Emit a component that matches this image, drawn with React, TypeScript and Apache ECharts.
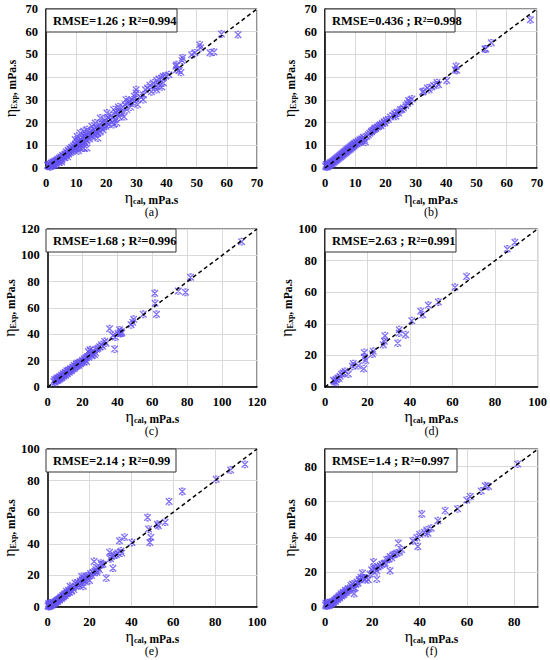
import React, { useEffect, useRef } from "react";
import * as echarts from "echarts";

// ---------- data: [η_cal, η_Exp] pairs ----------
const panelA: number[][] = [
  [0.5,1.2],[0.8,0.9],[1.0,1.8],[1.2,0.7],[1.5,1.4],[1.7,2.2],[1.9,1.1],[2.1,1.7],[2.3,2.6],[2.5,1.5],
  [2.7,2.0],[2.9,3.1],[3.1,2.4],[3.3,1.9],[3.5,3.3],[3.7,2.8],[3.9,3.9],[4.1,3.2],[4.3,2.6],[4.5,4.4],
  [4.7,3.7],[4.9,4.9],[5.1,4.1],[5.3,3.5],[5.5,5.6],[5.7,4.8],[5.9,5.3],[6.1,4.5],[6.3,6.2],[6.5,5.4],
  [6.7,7.0],[6.9,5.9],[7.1,6.6],[7.3,7.8],[7.5,6.2],[7.7,7.2],[7.9,8.5],[8.1,6.8],[8.3,7.7],[8.5,9.1],
  [8.7,7.3],[8.9,8.4],[9.1,9.8],[9.3,7.9],[9.5,8.9],[9.7,10.6],[9.9,8.4],[10.1,9.5],[10.3,11.3],[10.5,8.8],
  [10.7,10.2],[10.9,12.0],[11.1,9.4],[11.3,10.8],[11.5,12.7],[11.7,9.9],[11.9,11.4],[12.1,13.4],[12.3,8.8],[12.5,11.8],
  [12.7,14.1],[12.9,11.2],[13.1,12.6],[13.3,14.6],[13.5,12.0],[13.8,13.3],[14.1,15.4],[14.4,12.8],[14.7,14.2],[15.0,16.3],
  [15.3,13.9],[15.6,15.0],[15.9,17.2],[16.2,14.5],[16.5,15.8],[16.8,18.0],[17.1,15.2],[17.2,13.2],[17.4,16.6],[17.8,18.9],
  [18.0,15.9],[18.3,17.5],[18.6,20.2],[18.9,16.8],[19.2,18.3],[19.5,21.0],[19.9,18.4],[20.2,19.8],[20.5,22.3],[20.9,19.3],
  [21.3,21.3],[21.7,23.0],[22.1,20.2],[22.4,19.1],[22.9,21.3],[23.2,24.4],[23.5,19.8],[23.7,23.5],[24.0,25.9],[24.3,22.4],
  [24.7,24.8],[25.1,24.2],[25.5,26.9],[25.9,22.6],[26.2,27.9],[26.5,30.1],[26.8,25.7],[27.3,28.8],[27.6,29.4],[28.1,26.8],
  [28.6,30.0],[29.0,28.6],[29.3,31.6],[29.9,33.0],[29.9,34.5],[30.1,30.1],[30.4,27.9],[31.5,31.0],[32.3,32.3],[32.3,30.1],
  [33.0,34.4],[33.7,35.2],[34.5,36.4],[35.0,33.6],[35.6,37.4],[36.2,35.6],[36.7,38.5],[36.7,34.5],[37.5,39.2],[37.6,36.3],
  [38.4,39.6],[38.4,35.7],[38.9,40.4],[38.9,37.4],[39.7,40.4],[40.8,41.1],[43.1,44.8],[43.3,45.5],[43.3,43.3],[44.2,43.0],
  [44.8,42.1],[45.1,47.3],[45.3,48.5],[48.3,49.9],[49.4,50.7],[51.0,54.3],[51.3,52.9],[54.4,50.7],[55.7,51.1],[58.2,59.0],
  [63.7,58.7],[9.7,12.5],[10.3,14.0],[11.4,15.4],[12.5,16.2],[13.6,16.9],[15.2,18.4],[16.3,19.8],[18.0,22.0],[20.2,24.2],
  [22.4,25.7],[24.0,26.9],[12.5,8.8],[13.6,8.8],[10.8,7.6],[7.2,4.9],[5.2,2.6],[3.0,1.2],[1.4,0.5]
];

const panelB: number[][] = [
  [0.2,0.8],[0.4,1.5],[0.5,0.4],[0.7,1.1],[0.9,0.6],[1.0,1.9],[1.2,1.0],[1.4,1.6],[1.6,1.2],[1.8,2.3],
  [2.0,1.7],[2.2,2.6],[2.4,2.0],[2.6,3.0],[2.8,2.4],[3.0,3.4],[3.2,2.9],[3.4,3.8],[3.6,3.3],[3.8,4.3],
  [4.0,3.7],[4.2,4.7],[4.4,4.1],[4.6,5.2],[4.8,4.6],[5.0,5.6],[5.2,5.0],[5.4,6.1],[5.6,5.4],[5.8,6.5],
  [6.0,5.9],[6.2,7.0],[6.4,6.3],[6.6,7.4],[6.8,6.7],[7.0,7.9],[7.2,7.1],[7.4,8.3],[7.6,7.6],[7.8,8.7],
  [8.0,8.0],[8.2,9.1],[8.4,8.4],[8.6,9.6],[8.8,8.9],[9.0,10.0],[9.2,9.3],[9.4,10.4],[9.6,9.7],[9.8,10.9],
  [10.0,10.2],[10.3,11.3],[10.6,10.7],[10.9,11.9],[11.2,11.1],[11.5,12.4],[11.8,11.6],[12.1,12.9],[12.4,12.0],[12.7,13.5],
  [13.0,12.5],[13.3,11.4],[13.8,14.0],[14.3,14.6],[14.8,15.3],[15.3,15.9],[15.4,16.2],[15.8,16.6],[16.3,17.0],[16.5,17.6],
  [16.8,17.4],[17.3,18.0],[17.8,18.6],[18.2,19.0],[18.5,18.6],[18.9,19.7],[19.5,20.4],[19.8,19.8],[20.2,21.0],[20.9,21.3],
  [21.6,22.5],[22.4,23.2],[23.0,24.0],[23.4,22.8],[23.8,24.5],[24.3,24.2],[24.9,25.6],[25.4,25.7],[25.9,26.4],[26.7,27.5],
  [27.2,28.4],[27.6,29.7],[28.1,29.2],[28.7,30.4],[32.2,33.5],[32.5,33.8],[33.8,35.2],[34.4,34.5],[35.3,35.7],[35.9,36.3],
  [37.5,36.7],[37.0,37.6],[40.2,38.5],[43.0,43.3],[43.3,44.8],[43.5,43.0],[52.8,52.4],[53.1,52.4],[54.9,55.1],[67.8,65.3]
];

const panelC: number[][] = [
  [3.5,4.2],[4.0,5.5],[4.3,3.6],[4.8,6.0],[5.2,4.8],[5.6,7.0],[6.0,5.2],[6.3,6.8],[6.7,5.8],[7.0,8.0],
  [7.3,6.6],[7.7,7.5],[8.0,9.2],[8.3,7.0],[8.7,8.6],[9.0,10.2],[9.3,8.2],[9.7,9.5],[10.0,11.3],[10.3,9.0],
  [10.7,10.5],[11.0,12.4],[11.3,10.0],[11.7,11.6],[12.0,13.0],[12.4,11.2],[12.8,12.5],[13.2,14.0],[13.6,12.3],[14.0,13.5],
  [14.4,15.2],[14.8,13.8],[15.2,16.5],[15.6,14.5],[16.0,15.6],[16.4,17.5],[16.8,16.0],[17.2,18.2],[17.6,16.4],[18.0,17.5],
  [18.5,19.0],[19.0,17.6],[19.5,18.8],[20.0,20.3],[20.5,19.2],[21.0,21.5],[21.5,20.4],[22.0,22.2],[22.3,19.4],[22.8,23.2],
  [23.3,27.0],[23.5,22.5],[24.2,28.3],[24.5,24.8],[25.1,25.8],[25.5,23.8],[26.0,27.5],[26.9,24.5],[27.5,26.0],[28.2,28.6],
  [28.9,29.5],[29.8,30.6],[30.8,32.1],[31.5,31.0],[32.7,34.6],[33.5,33.3],[35.5,44.2],[37.4,39.1],[38.4,28.8],[38.8,38.0],
  [40.3,40.9],[41.2,43.4],[41.8,40.6],[42.2,42.2],[42.5,41.0],[47.8,47.2],[48.8,49.2],[49.3,51.5],[54.8,55.3],[61.4,71.2],
  [61.6,63.6],[62.4,55.3],[74.9,73.0],[79.0,72.0],[81.9,83.3],[111.2,110.4]
];

const panelD: number[][] = [
  [89.3,91.6],[85.7,87.3],[66.6,70.0],[61.1,63.1],[53.3,53.8],[48.6,51.7],[45.0,47.9],[45.9,45.8],[40.8,42.0],[37.9,33.1],
  [34.2,27.8],[34.9,36.3],[34.9,34.2],[28.2,32.5],[27.9,28.9],[27.4,26.8],[22.7,22.6],[22.3,20.9],[18.5,21.9],[18.5,18.8],
  [19.1,16.9],[18.2,11.6],[15.7,13.5],[13.3,14.8],[12.9,13.1],[11.0,8.2],[9.4,9.9],[7.8,8.2],[7.1,6.8],[6.0,5.7],
  [5.2,4.6],[4.4,3.6],[5.0,3.0],[6.6,5.3],[8.6,8.9],[4.0,4.2]
];

const panelE: number[][] = [
  [0.2,0.8],[0.4,2.0],[0.5,0.3],[0.7,1.2],[0.9,0.5],[1.0,2.6],[1.2,1.0],[1.4,1.8],[1.6,0.8],[1.8,1.5],
  [2.0,2.2],[2.2,1.3],[2.5,2.0],[2.8,2.8],[3.0,1.9],[3.3,2.6],[3.6,3.4],[3.9,2.8],[4.2,3.6],[4.5,4.2],
  [4.8,3.5],[5.1,4.6],[5.4,5.1],[5.7,4.4],[6.0,5.6],[6.3,6.4],[6.6,5.3],[6.9,6.2],[7.2,7.4],[7.5,6.3],
  [7.8,7.1],[8.1,8.3],[8.4,7.2],[8.7,8.6],[9.0,9.9],[9.3,8.4],[9.6,9.2],[10.0,10.6],[10.4,9.3],[10.7,13.1],
  [11.0,11.2],[11.5,9.9],[12.0,12.4],[12.5,11.0],[13.1,15.2],[13.5,13.0],[14.0,14.1],[14.6,15.2],[15.0,13.8],[15.5,16.5],
  [16.0,15.0],[16.2,19.4],[16.5,17.2],[17.0,17.3],[17.0,13.1],[17.5,18.5],[18.0,16.0],[18.5,19.6],[19.0,18.0],[19.5,19.8],
  [20.0,16.8],[20.5,21.2],[21.0,20.0],[21.7,21.9],[22.2,28.8],[22.5,22.5],[23.0,23.6],[23.5,22.0],[24.2,24.5],[24.8,23.5],
  [25.4,27.8],[25.7,26.7],[26.5,27.0],[28.0,18.3],[29.6,34.7],[30.4,32.0],[30.0,30.5],[31.2,24.6],[31.8,32.8],[32.8,33.1],
  [33.5,34.2],[34.3,41.9],[35.0,35.5],[35.4,34.1],[36.7,44.2],[40.3,40.8],[47.7,56.6],[48.2,49.3],[48.8,40.8],[49.3,44.2],
  [52.4,52.4],[52.9,51.4],[56.1,53.7],[58.0,66.7],[64.3,73.1],[80.5,80.8],[87.4,86.7],[94.2,90.3]
];

const panelF: number[][] = [
  [0.2,1.0],[0.4,2.2],[0.6,0.5],[0.8,1.5],[1.0,0.8],[1.2,2.4],[1.4,1.2],[1.6,1.9],[1.8,0.9],[2.0,1.6],
  [2.3,2.5],[2.6,1.5],[2.9,2.3],[3.2,3.2],[3.5,2.4],[3.8,3.1],[4.1,4.0],[4.4,3.3],[4.7,4.4],[5.0,5.1],
  [5.3,4.2],[5.6,5.3],[5.9,6.2],[6.2,5.1],[6.5,6.4],[6.8,7.5],[7.1,6.2],[7.4,7.2],[7.7,8.4],[8.0,7.0],
  [8.3,8.1],[8.6,9.5],[9.0,8.2],[9.4,9.3],[9.8,10.6],[10.2,9.4],[10.6,10.5],[11.0,12.2],[11.6,13.1],[12.0,11.2],
  [12.3,7.6],[12.7,10.8],[13.0,12.8],[13.5,14.3],[14.0,13.5],[14.4,15.5],[14.8,15.5],[15.2,17.0],[15.8,19.3],[16.2,16.5],
  [16.8,15.6],[17.5,16.6],[18.3,15.5],[19.0,18.8],[19.7,21.2],[20.2,20.5],[20.5,25.6],[21.0,21.6],[21.5,22.2],[21.9,20.6],
  [21.9,15.9],[22.5,22.8],[23.3,23.5],[24.0,24.3],[25.0,24.7],[25.4,25.0],[26.1,26.9],[26.8,27.2],[27.5,28.8],[27.5,20.6],
  [28.2,28.0],[28.9,29.7],[29.6,30.0],[30.3,30.7],[31.0,36.4],[31.5,31.2],[32.4,32.6],[37.1,37.7],[38.8,39.6],[39.2,34.5],
  [40.0,41.5],[40.9,53.0],[42.0,42.6],[43.0,43.9],[43.5,42.0],[44.9,44.9],[47.7,49.1],[50.8,54.9],[56.0,55.9],[59.9,61.0],
  [61.4,62.9],[66.0,66.1],[67.7,69.1],[69.1,68.6],[81.4,81.4]
];

const axisMax = [70, 70, 120, 100, 100, 90];
const axisStep = [10, 10, 20, 20, 20, 20];
const statTexts = [
  "RMSE=1.26 ; R²=0.994",
  "RMSE=0.436 ; R²=0.998",
  "RMSE=1.68 ; R²=0.996",
  "RMSE=2.63 ; R²=0.991",
  "RMSE=2.14 ; R²=0.99",
  "RMSE=1.4 ; R²=0.997",
];
const panelTags = ["(a)", "(b)", "(c)", "(d)", "(e)", "(f)"];
const xTitleSub = "cal";
const yTitleSub = "Exp";
const titleUnit = ", mPa.s";

// ---------- layout ----------
const panels = [panelA, panelB, panelC, panelD, panelE, panelF];
const layout = [
  { left: 46, top: 9, width: 211, height: 159 },
  { left: 325, top: 9, width: 212, height: 159 },
  { left: 46, top: 229, width: 211, height: 158 },
  { left: 325, top: 229, width: 213, height: 158 },
  { left: 46, top: 449, width: 211, height: 158 },
  { left: 325, top: 449, width: 213, height: 158 },
];
const boxWidths = [131, 130, 130, 131, 130, 132];
const FONT = "'Liberation Serif', 'Times New Roman', serif";
const MARK_COLOR = "#6553f2";
const XMARK = "path://M0,0L10,10M10,0L0,10M3.2,0L6.8,0M3.2,10L6.8,10";

const titleRich = {
  e: { fontSize: 16, fontFamily: FONT, fontWeight: "normal", color: "#000", lineHeight: 18, verticalAlign: "bottom" },
  s: { fontSize: 8, fontFamily: FONT, fontWeight: "bold", color: "#000", lineHeight: 7, verticalAlign: "bottom" },
  t: { fontSize: 11.5, fontFamily: FONT, fontWeight: "bold", color: "#000", lineHeight: 15, verticalAlign: "bottom" },
};

function buildOption() {
  const grid = layout.map((g) => ({
    ...g,
    show: true,
    borderColor: "#222",
    borderWidth: 1,
    backgroundColor: "#fff",
    containLabel: false,
  }));
  const axisCommon = (i: number) => ({
    type: "value",
    gridIndex: i,
    min: 0,
    max: axisMax[i],
    interval: axisStep[i],
    axisLine: { show: true, onZero: false, lineStyle: { color: "#000", width: 1.5 } },
    axisTick: { show: false },
    splitLine: { show: true, lineStyle: { color: "#d9d9d9", width: 1 } },
    axisLabel: {
      color: "#000",
      fontFamily: FONT,
      fontWeight: "bold",
      fontSize: 12.5,
      margin: 8,
      formatter: (v: number) => (v % axisStep[i] === 0 ? String(v) : ""),
    },
    nameLocation: "middle",
    nameTextStyle: { rich: titleRich },
  });
  const xAxis = panels.map((_, i) => ({
    ...axisCommon(i),
    name: `{e|η}{s|${xTitleSub}}{t|${titleUnit}}`,
    nameGap: 19,
  }));
  const yAxis = panels.map((_, i) => ({
    ...axisCommon(i),
    name: `{e|η}{s|${yTitleSub}}{t|${titleUnit}}`,
    nameGap: 28,
  }));
  const series: any[] = [];
  panels.forEach((data, i) => {
    series.push({
      type: "scatter",
      xAxisIndex: i,
      yAxisIndex: i,
      data,
      symbol: XMARK,
      symbolSize: 6.5,
      silent: true,
      itemStyle: { color: "rgba(0,0,0,0)", borderColor: MARK_COLOR, borderWidth: 1.4 },
    });
    series.push({
      type: "line",
      xAxisIndex: i,
      yAxisIndex: i,
      data: [
        [0, 0],
        [axisMax[i], axisMax[i]],
      ],
      symbol: "none",
      silent: true,
      lineStyle: { color: "#000", width: 1.5, type: [4, 3] },
      z: 3,
    });
  });
  const graphic: any[] = [];
  layout.forEach((g, i) => {
    graphic.push({
      type: "rect",
      shape: { x: g.left, y: g.top, width: boxWidths[i], height: 23 },
      style: { fill: "#fff", stroke: "#333", lineWidth: 1 },
      z: 100,
    });
    graphic.push({
      type: "text",
      x: g.left + 7,
      y: g.top + 12,
      style: {
        text: statTexts[i],
        fontFamily: FONT,
        fontWeight: "bold",
        fontSize: 12.5,
        fill: "#000",
        align: "left",
        verticalAlign: "middle",
      },
      z: 101,
    });
    graphic.push({
      type: "text",
      x: g.left + g.width / 2,
      y: g.top + g.height + 44,
      style: {
        text: panelTags[i],
        fontFamily: FONT,
        fontSize: 12,
        fill: "#000",
        align: "center",
        verticalAlign: "middle",
      },
      z: 101,
    });
  });
  return {
    animation: false,
    backgroundColor: "#fff",
    grid,
    xAxis,
    yAxis,
    series,
    graphic,
  };
}

export default function App() {
  const ref = useRef<HTMLDivElement>(null);
  useEffect(() => {
    if (!ref.current) return;
    const chart = echarts.init(ref.current, undefined, { renderer: "svg" });
    chart.setOption(buildOption() as any);
    return () => chart.dispose();
  }, []);
  return (
    <div
      ref={ref}
      style={{ position: "absolute", left: 0, top: 0, width: 550, height: 660, background: "#fff" }}
    />
  );
}
